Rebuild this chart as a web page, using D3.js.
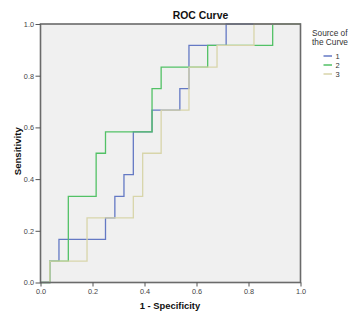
<!DOCTYPE html>
<html>
<head>
<meta charset="utf-8">
<script src="https://cdn.jsdelivr.net/npm/d3@7"></script>
<style>
  body { margin: 0; background: #fff; }
  svg { display: block; font-family: "Liberation Sans", Arial, sans-serif; }
</style>
</head>
<body>
<div id="chart"></div>
<script>
const width = 363;
const height = 325;
const plot = {left: 40.5, right: 300.5, top: 24, bottom: 282.5};

const seriesNames = ['1', '2', '3'];
const seriesColors = ['#6479c4', '#52c166', '#d8d5aa'];

// ROC staircase corners (1 - specificity, sensitivity)
const fpr1 = [0, 0.036, 0.071, 0.25, 0.286, 0.321, 0.357, 0.429, 0.536, 0.571, 0.714, 1];
const tpr1 = [0, 0.083, 0.167, 0.25, 0.333, 0.417, 0.583, 0.667, 0.75, 0.917, 1, 1];
const fpr2 = [0, 0.036, 0.107, 0.214, 0.25, 0.429, 0.464, 0.643, 0.893, 1];
const tpr2 = [0, 0.083, 0.333, 0.5, 0.583, 0.75, 0.833, 0.917, 1, 1];
const fpr3 = [0, 0.036, 0.179, 0.357, 0.393, 0.464, 0.571, 0.679, 0.821, 1];
const tpr3 = [0, 0.083, 0.25, 0.333, 0.5, 0.667, 0.833, 0.917, 1, 1];

const tickValues = [0, 0.2, 0.4, 0.6, 0.8, 1.0];

const series = [
  {name: seriesNames[0], fpr: fpr1, tpr: tpr1, color: seriesColors[0]},
  {name: seriesNames[1], fpr: fpr2, tpr: tpr2, color: seriesColors[1]},
  {name: seriesNames[2], fpr: fpr3, tpr: tpr3, color: seriesColors[2]}
];

const svg = d3.select('#chart')
  .append('svg')
  .attr('width', width)
  .attr('height', height);

const xScale = d3.scaleLinear().domain([0, 1]).range([plot.left, plot.right]);
const yScale = d3.scaleLinear().domain([0, 1]).range([plot.bottom, plot.top]);

// plot background
svg.append('rect')
  .attr('x', plot.left)
  .attr('y', plot.top)
  .attr('width', plot.right - plot.left)
  .attr('height', plot.bottom - plot.top)
  .attr('fill', '#f0f0f0');

// curves
const line = d3.line()
  .x(d => xScale(d[0]))
  .y(d => yScale(d[1]))
  .curve(d3.curveStepAfter);

series.forEach(s => {
  svg.append('path')
    .datum(s.fpr.map((f, i) => [f, s.tpr[i]]))
    .attr('fill', 'none')
    .attr('stroke', s.color)
    .attr('stroke-width', 1.3)
    .attr('d', line);
});

// frame
svg.append('rect')
  .attr('x', plot.left)
  .attr('y', plot.top)
  .attr('width', plot.right - plot.left)
  .attr('height', plot.bottom - plot.top)
  .attr('fill', 'none')
  .attr('stroke', '#6a6a6a')
  .attr('stroke-width', 1.6);

// axes
const xAxis = svg.append('g')
  .attr('transform', `translate(0, ${plot.bottom})`)
  .call(d3.axisBottom(xScale).tickValues(tickValues).tickFormat(d3.format('.1f')).tickSize(4).tickPadding(2));
const yAxis = svg.append('g')
  .attr('transform', `translate(${plot.left}, 0)`)
  .call(d3.axisLeft(yScale).tickValues(tickValues).tickFormat(d3.format('.1f')).tickSize(5).tickPadding(1.5));

[xAxis, yAxis].forEach(a => {
  a.select('.domain').remove();
  a.selectAll('line').attr('stroke', '#555');
  a.selectAll('text')
    .attr('fill', '#444')
    .style('font-size', '7.3px')
    .style('font-family', '"Liberation Sans", Arial, sans-serif');
});

// titles
svg.append('text')
  .attr('x', 200.5)
  .attr('y', 18.5)
  .attr('text-anchor', 'middle')
  .style('font-size', '10.4px')
  .style('font-weight', 'bold')
  .attr('fill', '#111')
  .text('ROC Curve');

svg.append('text')
  .attr('x', 170)
  .attr('y', 309)
  .attr('text-anchor', 'middle')
  .style('font-size', '9.4px')
  .style('font-weight', 'bold')
  .attr('fill', '#111')
  .text('1 - Specificity');

svg.append('text')
  .attr('transform', `translate(21, ${(plot.top + plot.bottom) / 2 - 2}) rotate(-90)`)
  .attr('text-anchor', 'middle')
  .style('font-size', '9.6px')
  .style('font-weight', 'bold')
  .attr('fill', '#111')
  .text('Sensitivity');

// legend
const legend = svg.append('g').attr('transform', 'translate(312, 0)');
legend.append('text')
  .attr('x', 0).attr('y', 36)
  .style('font-size', '8.3px')
  .attr('fill', '#333')
  .text('Source of');
legend.append('text')
  .attr('x', 0).attr('y', 45)
  .style('font-size', '8.3px')
  .attr('fill', '#333')
  .text('the Curve');

series.forEach((s, i) => {
  const y = 56 + i * 9;
  legend.append('line')
    .attr('x1', 11.5).attr('x2', 20)
    .attr('y1', y).attr('y2', y)
    .attr('stroke', s.color)
    .attr('stroke-width', 1.5);
  legend.append('text')
    .attr('x', 23.5).attr('y', y + 3)
    .style('font-size', '7.5px')
    .attr('fill', '#333')
    .text(s.name);
});
</script>
</body>
</html>
